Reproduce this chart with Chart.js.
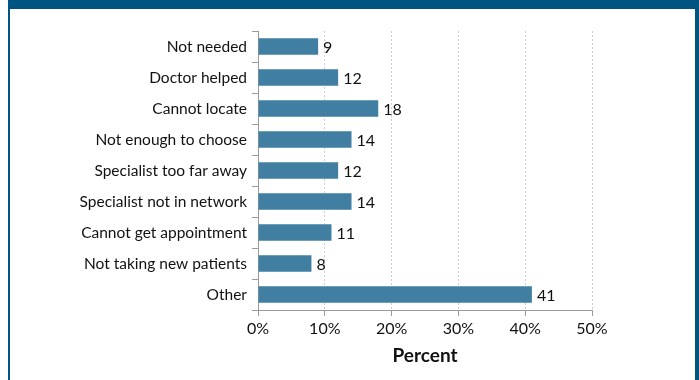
<!DOCTYPE html>
<html>
<head>
<meta charset="utf-8">
<script src="https://cdn.jsdelivr.net/npm/chart.js@4"></script>
<style>
  html, body { margin: 0; padding: 0; background: #fff; }
  #wrap { position: relative; width: 699px; height: 380px; overflow: hidden; }
  #topbar { position: absolute; left: 8px; top: 0; width: 691px; height: 9px; background: #005482; }
  #lb { position: absolute; left: 8px; top: 0; width: 2px; height: 380px; background: #005482; }
  #rb { position: absolute; left: 695px; top: 0; width: 4px; height: 380px; background: #005482; }
  canvas { position: absolute; left: 0; top: 0; }
</style>
</head>
<body>
<div id="wrap">
  <canvas id="c" width="699" height="380"></canvas>
  <div id="topbar"></div><div id="lb"></div><div id="rb"></div>
</div>
<script>
const categories = ["Not needed", "Doctor helped", "Cannot locate", "Not enough to choose",
  "Specialist too far away", "Specialist not in network", "Cannot get appointment",
  "Not taking new patients", "Other"];
const percentValues = [9, 12, 18, 14, 12, 14, 11, 8, 41];
const xTickValues = [0, 10, 20, 30, 40, 50];
const axisTitle = "Percent";

const FONT = "Lato, 'Open Sans', sans-serif";

const valueLabels = {
  id: 'valueLabels',
  afterDatasetsDraw(chart) {
    const ctx = chart.ctx;
    const meta = chart.getDatasetMeta(0);
    ctx.save();
    ctx.font = "16px " + FONT;
    ctx.fillStyle = "#111111";
    ctx.textAlign = "left";
    ctx.textBaseline = "middle";
    meta.data.forEach((bar, i) => {
      ctx.fillText(String(percentValues[i]), bar.x + 5, bar.y + 1);
    });
    ctx.restore();
  }
};

new Chart(document.getElementById('c'), {
  type: 'bar',
  data: {
    labels: categories,
    datasets: [{
      data: percentValues,
      backgroundColor: 'rgb(64,127,161)',
      categoryPercentage: 1,
      barPercentage: 0.53
    }]
  },
  options: {
    indexAxis: 'y',
    responsive: false,
    animation: false,
    events: [],
    layout: { padding: { left: 0, right: 107, top: 31, bottom: 0 } },
    plugins: { legend: { display: false }, tooltip: { enabled: false } },
    scales: {
      x: {
        min: 0, max: 50,
        afterBuildTicks(scale) { scale.ticks = xTickValues.map(v => ({ value: v })); },
        afterFit(scale) { scale.height = 70; },
        ticks: {
          callback: v => v + '%',
          color: '#111111',
          font: { family: FONT, size: 16 },
          padding: 3,
          maxRotation: 0
        },
        grid: {
          color: '#cfcfcf',
          tickColor: '#9a9a9a',
          tickLength: 6,
          lineWidth: 1
        },
        border: { color: '#9a9a9a', dash: [2, 2] },
        title: {
          display: true, text: axisTitle, color: '#111111',
          font: { family: FONT, size: 19, weight: 'bold' },
          padding: { top: 0, bottom: 13 }
        }
      },
      y: {
        afterFit(scale) { scale.width = 258; },
        ticks: {
          color: '#111111',
          font: { family: FONT, size: 15.5 },
          padding: 5
        },
        grid: {
          offset: true,
          drawOnChartArea: false,
          tickColor: '#9a9a9a',
          tickLength: 6
        },
        border: { color: '#9a9a9a' }
      }
    }
  },
  plugins: [valueLabels]
});
</script>
</body>
</html>
